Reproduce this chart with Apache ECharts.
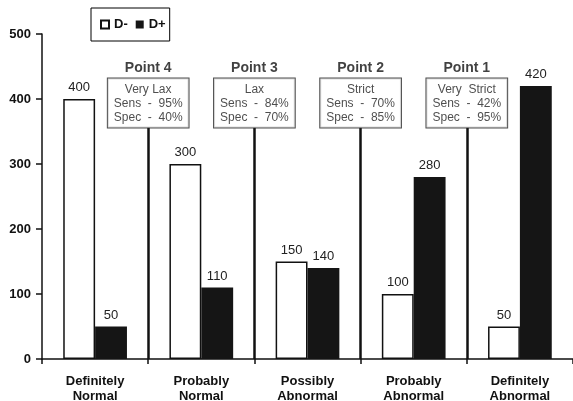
<!DOCTYPE html>
<html><head><meta charset="utf-8">
<script src="https://cdn.jsdelivr.net/npm/echarts@6/dist/echarts.min.js"></script>
<style>html,body{margin:0;padding:0;background:#fff}#c{width:573px;height:401px}</style>
</head><body><div id="c"></div>
<script>
var categories = ['Definitely\nNormal', 'Probably\nNormal', 'Possibly\nAbnormal', 'Probably\nAbnormal', 'Definitely\nAbnormal'];
var dMinus = [400, 300, 150, 100, 50];
var dPlus = [50, 110, 140, 280, 420];
var yTicks = [0, 100, 200, 300, 400, 500];
var cutPositions = [1, 2, 3, 4];
var cutTop = 356;
var pointTitles = ['Point 4', 'Point 3', 'Point 2', 'Point 1'];
var pointNames = ['Very Lax', 'Lax', 'Strict', 'Very  Strict'];
var sensValues = ['95%', '84%', '70%', '42%'];
var specValues = ['40%', '70%', '85%', '95%'];

var FONT = 'Arial, "Liberation Sans", sans-serif';
var chart = echarts.init(document.getElementById('c'));

var boxData = cutPositions.map(function (p, i) { return { value: [p, cutTop], idx: i }; });
var markLines = cutPositions.map(function (p) { return [{ coord: [p, 0] }, { coord: [p, cutTop] }]; });

chart.setOption({
  animation: false,
  textStyle: { fontFamily: FONT },
  grid: { left: 42, right: 0, top: 34, bottom: 42, containLabel: false, outerBoundsMode: 'none' },
  legend: {
    left: 91, top: 8,
    data: [{ name: 'D-', icon: 'rect' }, { name: 'D+', icon: 'rect' }],
    itemWidth: 8, itemHeight: 8, itemGap: 8,
    borderColor: '#000', borderWidth: 1,
    padding: [10, 4, 10, 9],
    textStyle: { fontFamily: FONT, fontWeight: 'bold', fontSize: 13, color: '#111' }
  },
  xAxis: [{
    type: 'category', data: categories,
    axisLine: { lineStyle: { color: '#111', width: 1.5 } },
    axisTick: { show: true, length: 5, lineStyle: { color: '#111', width: 1.5 } },
    axisLabel: { fontFamily: FONT, fontWeight: 'bold', fontSize: 13, color: '#111', margin: 15, lineHeight: 15 }
  }, {
    type: 'value', min: 0, max: 5, show: false
  }],
  yAxis: {
    type: 'value', min: 0, max: 500, interval: 100,
    axisLine: { show: true, lineStyle: { color: '#111', width: 1.5 } },
    axisTick: { show: true, length: 6, lineStyle: { color: '#111', width: 1.5 } },
    splitLine: { show: false },
    axisLabel: {
      fontFamily: FONT, fontWeight: 'bold', fontSize: 13, color: '#111', margin: 11,
      formatter: function (v) { return yTicks.indexOf(v) >= 0 ? String(v) : ''; }
    }
  },
  series: [{
    name: 'D-', type: 'bar', data: dMinus, barWidth: '30%', barGap: '0%',
    itemStyle: { color: '#fff', borderColor: '#111', borderWidth: 1.5 },
    label: { show: true, position: 'top', distance: 5, fontFamily: FONT, fontSize: 13, color: '#222' }
  }, {
    name: 'D+', type: 'bar', data: dPlus, barWidth: '30%', barGap: '0%',
    itemStyle: { color: '#151515' },
    label: { show: true, position: 'top', distance: 5, fontFamily: FONT, fontSize: 13, color: '#222' }
  }, {
    type: 'scatter', xAxisIndex: 1, symbolSize: 0, data: boxData, z: 5,
    label: {
      show: true, position: 'top', distance: 0,
      formatter: function (p) {
        var i = p.data.idx;
        return pointNames[i] + '\nSens  -  ' + sensValues[i] + '\nSpec  -  ' + specValues[i];
      },
      fontFamily: FONT, fontSize: 12, color: '#222', lineHeight: 14, align: 'center',
      backgroundColor: '#fff', borderColor: '#222', borderWidth: 1, padding: [4, 6, 3, 6]
    },
    markLine: {
      silent: true, symbol: 'none',
      lineStyle: { color: '#111', width: 2.5, type: 'solid' },
      label: { show: false },
      data: markLines
    }
  }, {
    type: 'scatter', xAxisIndex: 1, symbolSize: 0, data: boxData, z: 6,
    label: {
      show: true, position: 'top', distance: 52,
      formatter: function (p) { return pointTitles[p.data.idx]; },
      fontFamily: FONT, fontSize: 14, fontWeight: 'bold', color: '#111'
    }
  }]
});
</script></body></html>
